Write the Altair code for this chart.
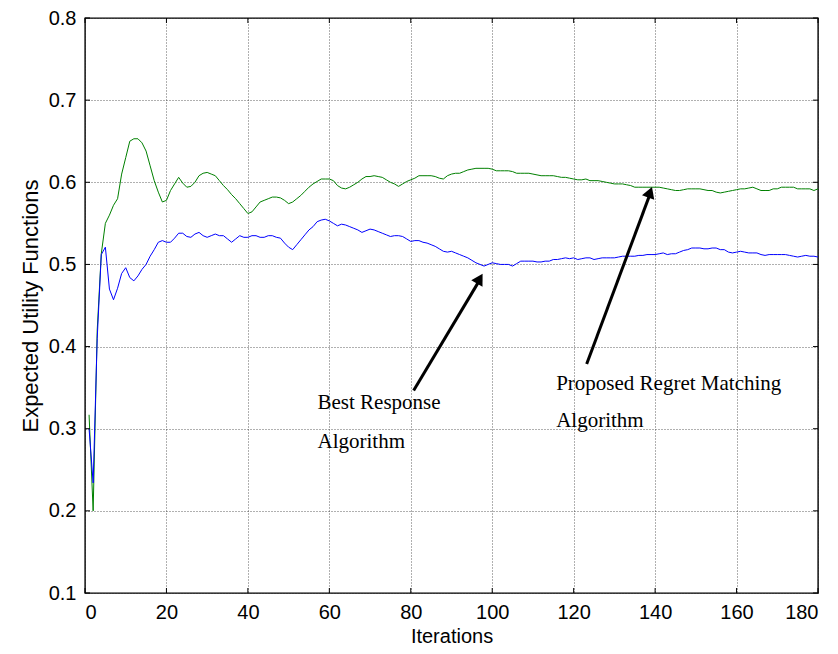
import altair as alt
import pandas as pd

iterations = list(range(1, 181))

regret = [
    0.317, 0.200, 0.420, 0.513, 0.550, 0.560, 0.572, 0.580, 0.610, 0.630,
    0.650, 0.653, 0.653, 0.648, 0.638, 0.620, 0.602, 0.588, 0.576, 0.578,
    0.590, 0.598, 0.606, 0.599, 0.594, 0.595, 0.600, 0.608, 0.611, 0.612,
    0.610, 0.608, 0.602, 0.596, 0.591, 0.585, 0.580, 0.574, 0.568, 0.562,
    0.564, 0.570, 0.576, 0.578, 0.580, 0.582, 0.582, 0.581, 0.578, 0.574,
    0.576, 0.580, 0.584, 0.589, 0.594, 0.598, 0.601, 0.604, 0.604, 0.604,
    0.602, 0.596, 0.593, 0.592, 0.594, 0.597, 0.600, 0.604, 0.607, 0.607,
    0.608, 0.607, 0.606, 0.603, 0.600, 0.598, 0.595, 0.598, 0.601, 0.603,
    0.605, 0.608, 0.608, 0.608, 0.608, 0.607, 0.605, 0.604, 0.608, 0.610,
    0.611, 0.611, 0.613, 0.615, 0.616, 0.617, 0.617, 0.617, 0.617, 0.616,
    0.614, 0.614, 0.614, 0.614, 0.613, 0.611, 0.611, 0.611, 0.611, 0.610,
    0.609, 0.608, 0.608, 0.608, 0.608, 0.607, 0.606, 0.606, 0.605, 0.604,
    0.603, 0.603, 0.604, 0.602, 0.602, 0.602, 0.601, 0.600, 0.599, 0.598,
    0.598, 0.598, 0.597, 0.596, 0.594, 0.594, 0.594, 0.594, 0.594, 0.594,
    0.594, 0.593, 0.592, 0.591, 0.590, 0.590, 0.591, 0.592, 0.592, 0.592,
    0.592, 0.591, 0.590, 0.590, 0.588, 0.587, 0.588, 0.589, 0.590, 0.591,
    0.592, 0.592, 0.593, 0.594, 0.592, 0.590, 0.590, 0.590, 0.592, 0.592,
    0.594, 0.594, 0.594, 0.594, 0.592, 0.592, 0.592, 0.592, 0.590, 0.592,
]

best_response = [
    0.300, 0.234, 0.410, 0.512, 0.521, 0.470, 0.457, 0.471, 0.489, 0.496,
    0.484, 0.480, 0.486, 0.494, 0.500, 0.510, 0.518, 0.527, 0.529, 0.527,
    0.527, 0.532, 0.538, 0.538, 0.534, 0.533, 0.537, 0.539, 0.535, 0.533,
    0.535, 0.537, 0.535, 0.535, 0.531, 0.527, 0.531, 0.535, 0.533, 0.533,
    0.535, 0.535, 0.533, 0.533, 0.535, 0.535, 0.533, 0.532, 0.526, 0.521,
    0.518, 0.524, 0.530, 0.536, 0.542, 0.546, 0.552, 0.554, 0.555, 0.553,
    0.550, 0.547, 0.549, 0.548, 0.546, 0.544, 0.542, 0.539, 0.541, 0.543,
    0.542, 0.540, 0.538, 0.536, 0.534, 0.535, 0.535, 0.534, 0.531, 0.528,
    0.529, 0.529, 0.527, 0.526, 0.524, 0.522, 0.519, 0.516, 0.515, 0.516,
    0.514, 0.512, 0.510, 0.508, 0.505, 0.502, 0.500, 0.498, 0.500, 0.502,
    0.501, 0.500, 0.500, 0.500, 0.498, 0.501, 0.504, 0.504, 0.504, 0.504,
    0.503, 0.503, 0.504, 0.504, 0.506, 0.506, 0.507, 0.508, 0.507, 0.508,
    0.506, 0.507, 0.508, 0.508, 0.506, 0.507, 0.508, 0.508, 0.508, 0.508,
    0.509, 0.510, 0.510, 0.510, 0.510, 0.511, 0.511, 0.512, 0.512, 0.512,
    0.513, 0.514, 0.512, 0.513, 0.513, 0.515, 0.517, 0.518, 0.520, 0.520,
    0.520, 0.519, 0.519, 0.520, 0.520, 0.518, 0.518, 0.515, 0.514, 0.515,
    0.516, 0.515, 0.514, 0.514, 0.514, 0.512, 0.511, 0.512, 0.512, 0.512,
    0.512, 0.512, 0.511, 0.510, 0.509, 0.510, 0.511, 0.510, 0.510, 0.509,
]

x_ticks = [0, 20, 40, 60, 80, 100, 120, 140, 160, 180]
y_ticks = [0.1, 0.2, 0.3, 0.4, 0.5, 0.6, 0.7, 0.8]

# annotation arrows (data coordinates): tail -> tip
arrow_names = ["Best Response", "Proposed Regret Matching"]
arrow_tail_x = [80.7, 123.2]
arrow_tail_y = [0.3466, 0.3787]
arrow_tip_x = [96.8, 138.7]
arrow_tip_y = [0.480, 0.585]
arrow_head_x = [96.7, 138.6]
arrow_head_y = [0.4807, 0.5857]
arrow_angle = [30.5, 20.0]

label_text = ["Best Response", "Algorithm", "Proposed Regret Matching", "Algorithm"]
label_x = [57.1, 57.1, 115.7, 115.7]
label_y = [0.324, 0.277, 0.3474, 0.3024]

W, H = 733, 575

df = pd.DataFrame({
    "Iterations": iterations * 2,
    "value": regret + best_response,
    "series": ["Proposed Regret Matching"] * len(iterations) + ["Best Response"] * len(iterations),
})

xscale = alt.Scale(domain=[0, 180], nice=False, zero=False)
yscale = alt.Scale(domain=[0.1, 0.8], nice=False, zero=False)

base = alt.Chart(df)

lines = base.mark_line(strokeWidth=1, clip=True).encode(
    x=alt.X("Iterations:Q", scale=xscale,
            axis=alt.Axis(values=x_ticks, title="Iterations", grid=True, tickSize=0,
                          labelPadding=9, titleBaseline="alphabetic", titleY=49,
                          titleFontSize=20)),
    y=alt.Y("value:Q", scale=yscale,
            axis=alt.Axis(values=y_ticks, format=".1f", title="Expected Utility Functions",
                          grid=True, tickSize=0, labelPadding=9, titlePadding=6,
                          titleFontSize=22)),
    color=alt.Color("series:N",
                    scale=alt.Scale(domain=["Proposed Regret Matching", "Best Response"],
                                    range=["#008000", "#0000ff"]),
                    legend=None),
    order=alt.Order("Iterations:Q"),
)

xt = pd.DataFrame({"t": x_ticks})
yt = pd.DataFrame({"t": y_ticks})

tick_bottom = alt.Chart(xt).mark_rule(color="black", strokeWidth=1).encode(
    x=alt.X("t:Q", scale=xscale), y=alt.value(H), y2=alt.value(H - 5))
tick_top = alt.Chart(xt).mark_rule(color="black", strokeWidth=1).encode(
    x=alt.X("t:Q", scale=xscale), y=alt.value(0), y2=alt.value(5))
tick_left = alt.Chart(yt).mark_rule(color="black", strokeWidth=1).encode(
    y=alt.Y("t:Q", scale=yscale), x=alt.value(0), x2=alt.value(5))
tick_right = alt.Chart(yt).mark_rule(color="black", strokeWidth=1).encode(
    y=alt.Y("t:Q", scale=yscale), x=alt.value(W), x2=alt.value(W - 5))

arrows_df = pd.DataFrame({
    "name": arrow_names,
    "x0": arrow_tail_x, "y0": arrow_tail_y,
    "x1": arrow_tip_x, "y1": arrow_tip_y,
    "hx": arrow_head_x, "hy": arrow_head_y,
    "angle": arrow_angle,
})

shafts = alt.Chart(arrows_df).mark_rule(color="black", strokeWidth=3).encode(
    x=alt.X("x0:Q", scale=xscale), y=alt.Y("y0:Q", scale=yscale),
    x2="x1:Q", y2="y1:Q")

heads = alt.Chart(arrows_df).mark_point(shape="triangle", filled=True, color="black",
                                        opacity=1, size=170).encode(
    x=alt.X("hx:Q", scale=xscale), y=alt.Y("hy:Q", scale=yscale),
    angle=alt.Angle("angle:Q", scale=None))

labels_df = pd.DataFrame({"text": label_text, "x": label_x, "y": label_y})
labels = alt.Chart(labels_df).mark_text(
    align="left", baseline="alphabetic", font="Liberation Serif", fontSize=21, color="black"
).encode(
    x=alt.X("x:Q", scale=xscale), y=alt.Y("y:Q", scale=yscale), text="text:N")

chart = alt.layer(
    lines, tick_bottom, tick_top, tick_left, tick_right, shafts, heads, labels
).properties(
    width=W, height=H,
    autosize=alt.AutoSizeParams(type="none"),
    padding={"left": 77, "top": 10, "right": 12, "bottom": 53},
    background="white",
).configure_view(
    stroke="black", strokeWidth=1.4
).configure_axis(
    domain=False,
    gridColor="#222222", gridDash=[1, 2], gridWidth=0.8, gridOpacity=0.9,
    labelFont="Liberation Sans", labelFontSize=20, labelColor="black",
    titleFont="Liberation Sans", titleFontSize=20, titleFontWeight="normal", titleColor="black",
)

chart.save("out.html", embed_options={"renderer": "svg", "actions": False})
